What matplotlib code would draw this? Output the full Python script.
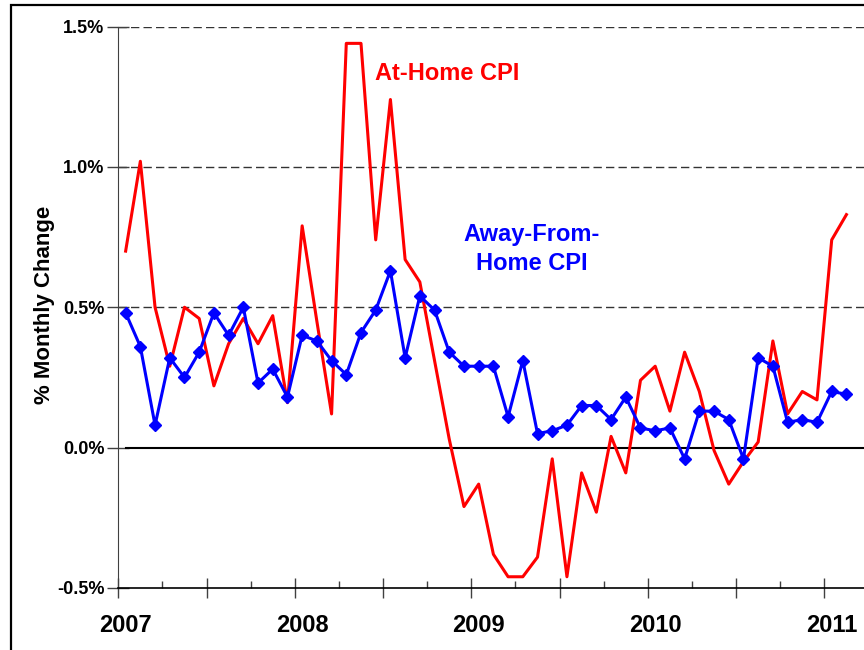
import matplotlib
matplotlib.use("Agg")
import matplotlib.pyplot as plt
from matplotlib.patches import Rectangle
import numpy as np
import pandas as pd

plt.rcParams['font.family'] = ['Liberation Sans', 'DejaVu Sans']
plt.rcParams['font.weight'] = 'bold'

# monthly categories, Jan 2007 - Feb 2011
months = pd.date_range('2007-01-01', periods=50, freq='MS')
year_labels = ['2007', '2008', '2009', '2010', '2011']

# % monthly change
at_home = [0.70, 1.02, 0.50, 0.29, 0.50, 0.46, 0.22, 0.37, 0.46, 0.37,
           0.47, 0.16, 0.79, 0.45, 0.12, 1.44, 1.44, 0.74, 1.24, 0.67,
           0.59, 0.31, 0.03, -0.21, -0.13, -0.38, -0.46, -0.46, -0.39, -0.04,
           -0.46, -0.09, -0.23, 0.04, -0.09, 0.24, 0.29, 0.13, 0.34, 0.20,
           -0.01, -0.13, -0.05, 0.02, 0.38, 0.12, 0.20, 0.17, 0.74, 0.83]
away_from_home = [0.48, 0.36, 0.08, 0.32, 0.25, 0.34, 0.48, 0.40, 0.50, 0.23,
                  0.28, 0.18, 0.40, 0.38, 0.31, 0.26, 0.41, 0.49, 0.63, 0.32,
                  0.54, 0.49, 0.34, 0.29, 0.29, 0.29, 0.11, 0.31, 0.05, 0.06,
                  0.08, 0.15, 0.15, 0.10, 0.18, 0.07, 0.06, 0.07, -0.04, 0.13,
                  0.13, 0.10, -0.04, 0.32, 0.29, 0.09, 0.10, 0.09, 0.20, 0.19]

x = np.arange(len(months)) + 0.5
n_span = 51

fig = plt.figure(figsize=(8.64, 6.5), dpi=100)
ax = fig.add_axes([0.1369, 0.0954, 0.8683, 0.8638])

# dashed grid and zero line
for v in [0.5, 1.0, 1.5]:
    ax.plot([0, n_span], [v, v], color='#333333', linewidth=1,
            dashes=(6, 3), zorder=1)
ax.plot([x[0], n_span], [0, 0], color='black', linewidth=1.5, zorder=2)

ax.plot(x, at_home, color='#ff0000', linewidth=2.2, zorder=3)
ax.plot(x, away_from_home, color='#0000ff', linewidth=2.2, marker='D',
        markersize=6, zorder=4)

ax.set_xlim(0, n_span)
ax.set_ylim(-0.5, 1.5)

for s in ['top', 'right']:
    ax.spines[s].set_visible(False)
ax.spines['left'].set_color('#404040')
ax.spines['bottom'].set_linewidth(1.2)

ax.set_yticks([-0.5, 0.0, 0.5, 1.0, 1.5])
ax.set_yticklabels(['%.1f%%' % v for v in [-0.5, 0.0, 0.5, 1.0, 1.5]],
                   fontsize=13, fontweight='bold')
ax.tick_params(axis='y', direction='inout', length=16, width=1,
               color='#404040', pad=2)

ax.set_xticks(np.arange(0, n_span, 6))
ax.set_xticks(np.arange(3, n_span, 6), minor=True)
ax.set_xticklabels([])
ax.tick_params(axis='x', which='major', direction='inout', length=14,
               width=1, color='#404040')
ax.tick_params(axis='x', which='minor', direction='in', length=5,
               width=1, color='#404040')

for i, lab in enumerate(year_labels):
    ax.text(12 * i + 0.5, -0.066, lab, transform=ax.get_xaxis_transform(),
            ha='center', va='center', fontsize=17, fontweight='bold')

fig.text(45 / 864, 1 - 305 / 650, '% Monthly Change', rotation=90,
         ha='center', va='center', fontsize=16, fontweight='bold')

ax.text(17.45, 1.311, 'At-Home CPI', color='#ff0000', fontsize=17,
        fontweight='bold', ha='left', va='baseline')
ax.text(28.1, 0.632, 'Away-From-\nHome CPI', color='#0000ff', fontsize=17,
        fontweight='bold', ha='center', va='baseline', multialignment='center',
        linespacing=1.35)

# outer frame
fig.patches.append(Rectangle((11 / 864, -0.1), 1.2, 1 - 5 / 650 + 0.1,
                             transform=fig.transFigure, fill=False,
                             edgecolor='black', linewidth=1.6))

fig.savefig('out.png', dpi=100)
